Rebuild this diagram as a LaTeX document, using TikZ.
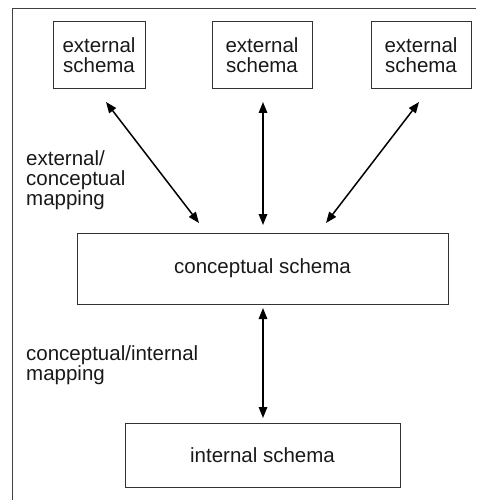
\documentclass[tikz,border=0pt]{standalone}
\usepackage{fontspec}
\setmainfont{Liberation Sans}
\usetikzlibrary{arrows.meta}
\begin{document}
\begin{tikzpicture}[x=1pt,y=-1pt,
  schemabox/.style={draw=black!80,line width=1pt,inner sep=0pt,
    font=\fontsize{20.5}{20}\selectfont,align=center,text=black!90},
  maplabel/.style={anchor=base west,inner sep=0pt,align=left,
    font=\fontsize{20.5}{20}\selectfont,text=black!90},
  maparrow/.style={line width=1.5pt,{Triangle[length=11pt,width=8.5pt]}-{Triangle[length=11pt,width=8.5pt]}}]
\useasboundingbox (0,0) rectangle (476,500);
% outer frame (open at right and bottom)
\draw[black!75,line width=1pt] (12,500) -- (12,9) -- (476,9);
% schema boxes
\node[schemabox,minimum width=92pt,minimum height=67pt] (ext1) at (99,55.5) {external\\schema};
\node[schemabox,minimum width=100pt,minimum height=67pt] (ext2) at (262,55.5) {external\\schema};
\node[schemabox,minimum width=100pt,minimum height=67pt] (ext3) at (421,55.5) {external\\schema};
\node[schemabox,minimum width=371pt,minimum height=71pt] (con) at (262.5,268.5) {conceptual schema};
\node[schemabox,minimum width=275pt,minimum height=64pt] (int) at (262.5,455) {internal schema};
% anchor points for the mappings
\coordinate (a1) at (106,102);
\coordinate (b1) at (199,223);
\coordinate (a2) at (263,102);
\coordinate (b2) at (263,225);
\coordinate (a3) at (419,102);
\coordinate (b3) at (326,223);
\coordinate (c1) at (263,308);
\coordinate (d1) at (263,418);
\draw[maparrow] (a1) -- (b1);
\draw[maparrow] (a2) -- (b2);
\draw[maparrow] (a3) -- (b3);
\draw[maparrow] (c1) -- (d1);
% labels (base anchor sits on the last line)
\node[maplabel] (lab1) at (26,205) {external/\\conceptual\\mapping};
\node[maplabel] (lab2) at (26,380) {conceptual/internal\\mapping};
\end{tikzpicture}
\end{document}
